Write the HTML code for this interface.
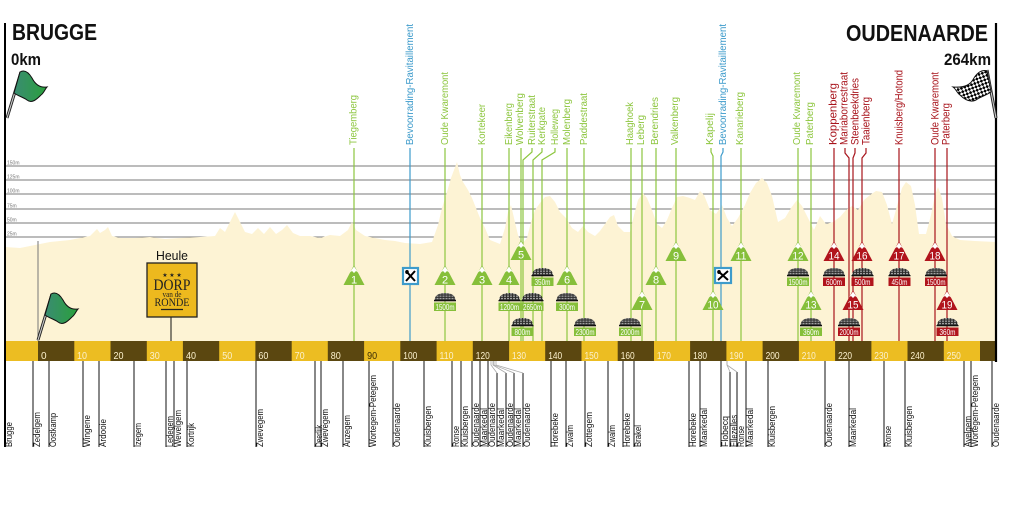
<!DOCTYPE html>
<html><head><meta charset="utf-8"><style>html,body{margin:0;padding:0;background:#fff}svg{display:block}</style></head>
<body>
<svg width="1013" height="519" viewBox="0 0 1013 519" xmlns="http://www.w3.org/2000/svg" xmlns:xlink="http://www.w3.org/1999/xlink" font-family="'Liberation Sans', sans-serif">
<defs>
<pattern id="cp" width="3" height="2.4" patternUnits="userSpaceOnUse"><rect width="3" height="2.4" fill="#2e2e2e"/><rect x="0.5" y="0.4" width="2" height="1.2" fill="#a8a8a8"/></pattern>
<g id="cob"><path d="M-10.5,0 C-10,-5 -6,-7 0,-7 C6,-7 10,-5 10.5,0 Z" fill="url(#cp)"/><rect x="-11" y="0" width="22" height="1.3" fill="#111"/></g>
<g id="tri"><polygon points="0,0 10.5,20 -10.5,20"/><polygon points="0,1.5 4.2,7.5 2,6 0,8 -2,6 -4.2,7.5" fill="#fff"/></g>
<pattern id="ck" width="5" height="5" patternUnits="userSpaceOnUse" patternTransform="rotate(25)"><rect width="5" height="5" fill="#fff"/><rect width="2.5" height="2.5" fill="#000"/><rect x="2.5" y="2.5" width="2.5" height="2.5" fill="#000"/></pattern>
<linearGradient id="gf" x1="0" y1="0" x2="1" y2="0"><stop offset="0" stop-color="#3a8c72"/><stop offset="1" stop-color="#2aa03c"/></linearGradient>
<g id="gflag"><line x1="7" y1="118" x2="21" y2="72" stroke="#222" stroke-width="3"/><line x1="7" y1="118" x2="21" y2="72" stroke="#ccc" stroke-width="1.1"/><path d="M20,72 C25,69 29,73 32,78 C35,84 40,88 47,87 C45,89 44,93 41,95 C37,99 32,104 27,100 C23,97 18,96 14,93 Z" fill="url(#gf)" stroke="#111" stroke-width="1"/></g>
</defs>

<rect width="1013" height="519" fill="#fff"/>

<!-- grid -->
<g stroke="#7a7a7a" stroke-width="1">
<line x1="5" y1="166" x2="996" y2="166"/><line x1="5" y1="180" x2="996" y2="180"/><line x1="5" y1="194" x2="996" y2="194"/><line x1="5" y1="209" x2="996" y2="209"/><line x1="5" y1="223" x2="996" y2="223"/><line x1="5" y1="237" x2="996" y2="237"/>
</g>
<g font-size="5" fill="#777">
<text x="7" y="164.5">150m</text><text x="7" y="178.5">125m</text><text x="7" y="192.5">100m</text><text x="7" y="207.5">75m</text><text x="7" y="221.5">50m</text><text x="7" y="235.5">25m</text>
</g>

<!-- profile -->
<polygon fill="#fdf3d4" points="5,341 5,247 20,248 30,246 40,244 50,242 60,241 70,240 80,238 90,236 97,229 100,233 105,230 108,227 112,236 120,238 135,238 150,237 165,239 180,238 200,237 215,236 220,228 225,232 230,222 235,212 240,222 245,232 252,234 258,228 264,234 270,227 276,234 282,230 287,225 293,233 300,236 310,236 320,238 330,235 340,236 348,230 352,222 356,230 365,236 375,238 385,240 395,241 405,243 420,244 432,242 438,225 442,208 447,192 451,178 454,170 457,162 460,175 463,182 468,190 472,198 476,208 480,218 485,228 490,240 500,244 505,228 508,212 511,205 514,218 518,235 522,244 527,238 531,222 535,210 540,203 545,197 550,196 555,202 560,212 566,218 572,228 578,232 583,226 588,232 595,236 600,231 605,224 610,217 614,215 618,226 624,232 630,232 634,215 638,200 643,193 647,198 652,210 657,224 662,228 667,220 672,208 677,197 683,196 690,198 695,200 700,191 704,195 710,210 716,214 722,205 727,218 732,226 738,218 745,205 750,193 756,183 762,178 767,183 772,196 778,222 785,218 791,208 797,200 802,206 808,218 814,230 820,216 826,224 833,222 840,217 846,210 852,206 858,210 864,200 870,195 876,191 882,192 887,205 892,224 897,206 902,188 906,182 911,186 915,205 919,234 926,234 931,215 935,195 938,187 942,198 946,224 952,236 960,240 975,241 996,242 996,341"/>

<!-- start line & heule line -->
<line x1="38" y1="241" x2="38" y2="341" stroke="#777" stroke-width="1"/>
<line x1="171" y1="317" x2="171" y2="341" stroke="#111" stroke-width="1"/>

<!-- climb lines -->
<g fill="none" stroke-width="1.2">
<g stroke="#8dc63f">
<line x1="354" y1="148" x2="354" y2="341"/>
<line x1="445" y1="148" x2="445" y2="341"/>
<line x1="482" y1="148" x2="482" y2="341"/>
<line x1="509" y1="148" x2="509" y2="341"/>
<line x1="521" y1="148" x2="521" y2="341"/>
<polyline points="532,148 532,152 523,160 523,341"/>
<polyline points="542,148 542,152 533,160 533,341"/>
<polyline points="555,148 555,152 542,160 542,341"/>
<line x1="567" y1="148" x2="567" y2="341"/>
<line x1="584" y1="148" x2="584" y2="341"/>
<line x1="631" y1="148" x2="631" y2="341"/>
<line x1="642" y1="148" x2="642" y2="341"/>
<line x1="656" y1="148" x2="656" y2="341"/>
<line x1="676" y1="148" x2="676" y2="341"/>
<polyline points="711,148 711,152 713,156 713,341"/>
<line x1="741" y1="148" x2="741" y2="341"/>
<line x1="798" y1="148" x2="798" y2="341"/>
<line x1="811" y1="148" x2="811" y2="341"/>
</g>
<g stroke="#3d9bcb">
<line x1="410" y1="148" x2="410" y2="341"/>
<polyline points="723,148 723,152 721,156 721,341"/>
</g>
<g stroke="#a8141c">
<line x1="834" y1="148" x2="834" y2="341"/>
<polyline points="845,148 845,153 849,158 849,341"/>
<polyline points="855,148 855,153 853,158 853,341"/>
<polyline points="866,148 866,153 862,158 862,341"/>
<line x1="899" y1="148" x2="899" y2="341"/>
<line x1="935" y1="148" x2="935" y2="341"/>
<line x1="947" y1="148" x2="947" y2="341"/>
</g>
</g>

<!-- top labels -->
<g font-size="10" fill="#8dc63f" lengthAdjust="spacingAndGlyphs">
<text transform="translate(356.5,145) rotate(-90)" textLength="50" lengthAdjust="spacingAndGlyphs">Tiegemberg</text>
<text transform="translate(448,145) rotate(-90)" textLength="73" lengthAdjust="spacingAndGlyphs">Oude Kwaremont</text>
<text transform="translate(485,145) rotate(-90)" textLength="41" lengthAdjust="spacingAndGlyphs">Kortekeer</text>
<text transform="translate(512,145) rotate(-90)" textLength="42" lengthAdjust="spacingAndGlyphs">Eikenberg</text>
<text transform="translate(523,145) rotate(-90)" textLength="52" lengthAdjust="spacingAndGlyphs">Wolvenberg</text>
<text transform="translate(535,145) rotate(-90)" textLength="50" lengthAdjust="spacingAndGlyphs">Ruiterstraat</text>
<text transform="translate(545,145) rotate(-90)" textLength="38" lengthAdjust="spacingAndGlyphs">Kerkgate</text>
<text transform="translate(558,145) rotate(-90)" textLength="36" lengthAdjust="spacingAndGlyphs">Holleweg</text>
<text transform="translate(570,145) rotate(-90)" textLength="46" lengthAdjust="spacingAndGlyphs">Molenberg</text>
<text transform="translate(587,145) rotate(-90)" textLength="52" lengthAdjust="spacingAndGlyphs">Paddestraat</text>
<text transform="translate(633,145) rotate(-90)" textLength="43" lengthAdjust="spacingAndGlyphs">Haaghoek</text>
<text transform="translate(644,145) rotate(-90)" textLength="30" lengthAdjust="spacingAndGlyphs">Leberg</text>
<text transform="translate(658,145) rotate(-90)" textLength="48" lengthAdjust="spacingAndGlyphs">Berendries</text>
<text transform="translate(678,145) rotate(-90)" textLength="48" lengthAdjust="spacingAndGlyphs">Valkenberg</text>
<text transform="translate(713,145) rotate(-90)" textLength="32" lengthAdjust="spacingAndGlyphs">Kapelij</text>
<text transform="translate(743,145) rotate(-90)" textLength="53" lengthAdjust="spacingAndGlyphs">Kanarieberg</text>
<text transform="translate(800,145) rotate(-90)" textLength="73" lengthAdjust="spacingAndGlyphs">Oude Kwaremont</text>
<text transform="translate(813,145) rotate(-90)" textLength="43" lengthAdjust="spacingAndGlyphs">Paterberg</text>
</g>
<g font-size="10" fill="#3d9bcb">
<text transform="translate(413,145) rotate(-90)" textLength="121" lengthAdjust="spacingAndGlyphs">Bevoorrading-Ravitaillement</text>
<text transform="translate(726,145) rotate(-90)" textLength="121" lengthAdjust="spacingAndGlyphs">Bevoorrading-Ravitaillement</text>
</g>
<g font-size="11" fill="#a8141c">
<text transform="translate(836.5,145) rotate(-90)" textLength="62" lengthAdjust="spacingAndGlyphs">Koppenberg</text>
<text transform="translate(847.5,145) rotate(-90)" textLength="73" lengthAdjust="spacingAndGlyphs">Mariaborrestraat</text>
<text transform="translate(858.5,145) rotate(-90)" textLength="67" lengthAdjust="spacingAndGlyphs">Steenbeekdries</text>
<text transform="translate(869.5,145) rotate(-90)" textLength="48" lengthAdjust="spacingAndGlyphs">Taaienberg</text>
<text transform="translate(902.5,145) rotate(-90)" textLength="75" lengthAdjust="spacingAndGlyphs">Knuisberg/Hotond</text>
<text transform="translate(938.5,145) rotate(-90)" textLength="73" lengthAdjust="spacingAndGlyphs">Oude Kwaremont</text>
<text transform="translate(949.5,145) rotate(-90)" textLength="42" lengthAdjust="spacingAndGlyphs">Paterberg</text>
</g>

<!-- triangles -->
<g>
<use xlink:href="#tri" x="354" y="265" fill="#86bf3a"/>
<use xlink:href="#tri" x="445" y="265" fill="#86bf3a"/>
<use xlink:href="#tri" x="482" y="265" fill="#86bf3a"/>
<use xlink:href="#tri" x="509" y="265" fill="#86bf3a"/>
<use xlink:href="#tri" x="521" y="240" fill="#86bf3a"/>
<use xlink:href="#tri" x="567" y="265" fill="#86bf3a"/>
<use xlink:href="#tri" x="642" y="290" fill="#86bf3a"/>
<use xlink:href="#tri" x="656" y="265" fill="#86bf3a"/>
<use xlink:href="#tri" x="676" y="241" fill="#86bf3a"/>
<use xlink:href="#tri" x="713" y="290" fill="#86bf3a"/>
<use xlink:href="#tri" x="741" y="241" fill="#86bf3a"/>
<use xlink:href="#tri" x="798" y="241" fill="#86bf3a"/>
<use xlink:href="#tri" x="811" y="290" fill="#86bf3a"/>
<use xlink:href="#tri" x="834" y="241" fill="#b1141c"/>
<use xlink:href="#tri" x="853" y="290" fill="#b1141c"/>
<use xlink:href="#tri" x="862" y="241" fill="#b1141c"/>
<use xlink:href="#tri" x="899" y="241" fill="#b1141c"/>
<use xlink:href="#tri" x="935" y="241" fill="#b1141c"/>
<use xlink:href="#tri" x="947" y="290" fill="#b1141c"/>
</g>
<g font-size="11" fill="#fff" text-anchor="middle">
<text x="354" y="283.5">1</text><text x="445" y="283.5">2</text><text x="482" y="283.5">3</text><text x="509" y="283.5">4</text>
<text x="521" y="258.5">5</text><text x="567" y="283.5">6</text><text x="642" y="308.5">7</text><text x="656" y="283.5">8</text>
<text x="676" y="259.5">9</text>
<text x="713" y="308.5" textLength="11" lengthAdjust="spacingAndGlyphs">10</text>
<text x="741" y="259.5" textLength="11" lengthAdjust="spacingAndGlyphs">11</text>
<text x="798" y="259.5" textLength="11" lengthAdjust="spacingAndGlyphs">12</text>
<text x="811" y="308.5" textLength="11" lengthAdjust="spacingAndGlyphs">13</text>
<text x="834" y="259.5" textLength="11" lengthAdjust="spacingAndGlyphs">14</text>
<text x="853" y="308.5" textLength="11" lengthAdjust="spacingAndGlyphs">15</text>
<text x="862" y="259.5" textLength="11" lengthAdjust="spacingAndGlyphs">16</text>
<text x="899" y="259.5" textLength="11" lengthAdjust="spacingAndGlyphs">17</text>
<text x="935" y="259.5" textLength="11" lengthAdjust="spacingAndGlyphs">18</text>
<text x="947" y="308.5" textLength="11" lengthAdjust="spacingAndGlyphs">19</text>
</g>

<!-- cobbles -->
<g>
<use xlink:href="#cob" x="542.5" y="275"/><use xlink:href="#cob" x="798" y="275"/><use xlink:href="#cob" x="834" y="275"/><use xlink:href="#cob" x="862.5" y="275"/><use xlink:href="#cob" x="899.5" y="275"/><use xlink:href="#cob" x="936" y="275"/>
<use xlink:href="#cob" x="445" y="300"/><use xlink:href="#cob" x="509.5" y="300"/><use xlink:href="#cob" x="532.5" y="300"/><use xlink:href="#cob" x="567" y="300"/>
<use xlink:href="#cob" x="522.5" y="325"/><use xlink:href="#cob" x="585" y="325"/><use xlink:href="#cob" x="630" y="325"/><use xlink:href="#cob" x="811" y="325"/><use xlink:href="#cob" x="849" y="325"/><use xlink:href="#cob" x="947.5" y="325"/>
</g>
<g>
<rect x="531.5" y="277.5" width="22" height="8.5" fill="#86bf3a"/>
<rect x="787" y="277.5" width="22" height="8.5" fill="#86bf3a"/>
<rect x="823" y="277.5" width="22" height="8.5" fill="#b1141c"/>
<rect x="851.5" y="277.5" width="22" height="8.5" fill="#b1141c"/>
<rect x="888.5" y="277.5" width="22" height="8.5" fill="#b1141c"/>
<rect x="925" y="277.5" width="22" height="8.5" fill="#b1141c"/>
<rect x="434" y="302.5" width="22" height="8.5" fill="#86bf3a"/>
<rect x="498.5" y="302.5" width="22" height="8.5" fill="#86bf3a"/>
<rect x="521.5" y="302.5" width="22" height="8.5" fill="#86bf3a"/>
<rect x="556" y="302.5" width="22" height="8.5" fill="#86bf3a"/>
<rect x="511.5" y="327.5" width="22" height="8.5" fill="#86bf3a"/>
<rect x="574" y="327.5" width="22" height="8.5" fill="#86bf3a"/>
<rect x="619" y="327.5" width="22" height="8.5" fill="#86bf3a"/>
<rect x="800" y="327.5" width="22" height="8.5" fill="#86bf3a"/>
<rect x="838" y="327.5" width="22" height="8.5" fill="#b1141c"/>
<rect x="936.5" y="327.5" width="22" height="8.5" fill="#b1141c"/>
</g>
<g font-size="8.5" fill="#fff" text-anchor="middle">
<text x="542.5" y="285" textLength="16" lengthAdjust="spacingAndGlyphs">350m</text>
<text x="798" y="285" textLength="19" lengthAdjust="spacingAndGlyphs">1500m</text>
<text x="834" y="285" textLength="16" lengthAdjust="spacingAndGlyphs">600m</text>
<text x="862.5" y="285" textLength="16" lengthAdjust="spacingAndGlyphs">500m</text>
<text x="899.5" y="285" textLength="16" lengthAdjust="spacingAndGlyphs">450m</text>
<text x="936" y="285" textLength="19" lengthAdjust="spacingAndGlyphs">1500m</text>
<text x="445" y="310" textLength="19" lengthAdjust="spacingAndGlyphs">1500m</text>
<text x="509.5" y="310" textLength="19" lengthAdjust="spacingAndGlyphs">1200m</text>
<text x="532.5" y="310" textLength="19" lengthAdjust="spacingAndGlyphs">2650m</text>
<text x="567" y="310" textLength="16" lengthAdjust="spacingAndGlyphs">300m</text>
<text x="522.5" y="335" textLength="16" lengthAdjust="spacingAndGlyphs">800m</text>
<text x="585" y="335" textLength="19" lengthAdjust="spacingAndGlyphs">2300m</text>
<text x="630" y="335" textLength="19" lengthAdjust="spacingAndGlyphs">2000m</text>
<text x="811" y="335" textLength="16" lengthAdjust="spacingAndGlyphs">360m</text>
<text x="849" y="335" textLength="19" lengthAdjust="spacingAndGlyphs">2000m</text>
<text x="947.5" y="335" textLength="16" lengthAdjust="spacingAndGlyphs">360m</text>
</g>

<!-- feed zone icons -->
<g>
<rect x="403" y="268" width="15" height="16" fill="#fff" stroke="#3d9bcb" stroke-width="2.2"/>
<line x1="406" y1="271" x2="415" y2="281" stroke="#000" stroke-width="2"/><line x1="415" y1="271" x2="406" y2="281" stroke="#000" stroke-width="2"/>
<ellipse cx="407" cy="272" rx="1.8" ry="2" fill="#000"/>
<rect x="715" y="268" width="16" height="15" fill="#fff" stroke="#3d9bcb" stroke-width="2.2"/>
<line x1="718" y1="271" x2="728" y2="280" stroke="#000" stroke-width="2"/><line x1="728" y1="271" x2="718" y2="280" stroke="#000" stroke-width="2"/>
<ellipse cx="719" cy="272" rx="1.8" ry="2" fill="#000"/>
</g>

<!-- km bar -->
<rect x="5" y="341" width="991" height="20" fill="#ecbd22"/>
<g fill="#5b4710">
<rect x="38" y="341" width="36.3" height="20"/><rect x="110.5" y="341" width="36.3" height="20"/><rect x="182.9" y="341" width="36.3" height="20"/><rect x="255.4" y="341" width="36.3" height="20"/><rect x="327.8" y="341" width="36.3" height="20"/><rect x="400.3" y="341" width="36.3" height="20"/><rect x="472.8" y="341" width="36.3" height="20"/><rect x="545.2" y="341" width="36.3" height="20"/><rect x="617.7" y="341" width="36.3" height="20"/><rect x="690.1" y="341" width="36.3" height="20"/><rect x="762.6" y="341" width="36.3" height="20"/><rect x="835.1" y="341" width="36.3" height="20"/><rect x="907.5" y="341" width="36.3" height="20"/><rect x="980" y="341" width="16" height="20"/>
</g>
<g font-size="10" fill="#fbf0cc">
<text x="41" y="359">0</text>
<text x="77" y="359" textLength="10" lengthAdjust="spacingAndGlyphs">10</text>
<text x="113.5" y="359" textLength="10" lengthAdjust="spacingAndGlyphs">20</text>
<text x="149.7" y="359" textLength="10" lengthAdjust="spacingAndGlyphs">30</text>
<text x="186" y="359" textLength="10" lengthAdjust="spacingAndGlyphs">40</text>
<text x="222.2" y="359" textLength="10" lengthAdjust="spacingAndGlyphs">50</text>
<text x="258.4" y="359" textLength="10" lengthAdjust="spacingAndGlyphs">60</text>
<text x="294.6" y="359" textLength="10" lengthAdjust="spacingAndGlyphs">70</text>
<text x="330.8" y="359" textLength="10" lengthAdjust="spacingAndGlyphs">80</text>
<text x="367.1" y="359" textLength="10" lengthAdjust="spacingAndGlyphs" fill="#3c2e06">90</text>
<text x="403.3" y="359" textLength="14" lengthAdjust="spacingAndGlyphs">100</text>
<text x="439.5" y="359" textLength="14" lengthAdjust="spacingAndGlyphs">110</text>
<text x="475.8" y="359" textLength="14" lengthAdjust="spacingAndGlyphs">120</text>
<text x="512" y="359" textLength="14" lengthAdjust="spacingAndGlyphs">130</text>
<text x="548.2" y="359" textLength="14" lengthAdjust="spacingAndGlyphs">140</text>
<text x="584.5" y="359" textLength="14" lengthAdjust="spacingAndGlyphs">150</text>
<text x="620.7" y="359" textLength="14" lengthAdjust="spacingAndGlyphs">160</text>
<text x="656.9" y="359" textLength="14" lengthAdjust="spacingAndGlyphs">170</text>
<text x="693.1" y="359" textLength="14" lengthAdjust="spacingAndGlyphs">180</text>
<text x="729.4" y="359" textLength="14" lengthAdjust="spacingAndGlyphs">190</text>
<text x="765.6" y="359" textLength="14" lengthAdjust="spacingAndGlyphs">200</text>
<text x="801.8" y="359" textLength="14" lengthAdjust="spacingAndGlyphs">210</text>
<text x="838.1" y="359" textLength="14" lengthAdjust="spacingAndGlyphs">220</text>
<text x="874.3" y="359" textLength="14" lengthAdjust="spacingAndGlyphs">230</text>
<text x="910.5" y="359" textLength="14" lengthAdjust="spacingAndGlyphs">240</text>
<text x="946.8" y="359" textLength="14" lengthAdjust="spacingAndGlyphs">250</text>
</g>

<!-- borders -->
<line x1="5" y1="23" x2="5" y2="447" stroke="#000" stroke-width="2"/>
<line x1="996" y1="23" x2="996" y2="362" stroke="#000" stroke-width="2.2"/>

<!-- bottom town ticks -->
<g stroke="#111" stroke-width="1">
<line x1="33" y1="361" x2="33" y2="447"/><line x1="49" y1="361" x2="49" y2="447"/><line x1="83" y1="361" x2="83" y2="447"/><line x1="99" y1="361" x2="99" y2="447"/><line x1="134" y1="361" x2="134" y2="447"/>
<line x1="166" y1="361" x2="166" y2="447"/><line x1="174" y1="361" x2="174" y2="447"/><line x1="187" y1="361" x2="187" y2="447"/><line x1="256" y1="361" x2="256" y2="447"/><line x1="315" y1="361" x2="315" y2="447"/><line x1="321" y1="361" x2="321" y2="447"/>
<line x1="343" y1="361" x2="343" y2="447"/><line x1="369" y1="361" x2="369" y2="447"/><line x1="393" y1="361" x2="393" y2="447"/><line x1="424" y1="361" x2="424" y2="447"/><line x1="452" y1="361" x2="452" y2="447"/><line x1="461" y1="361" x2="461" y2="447"/>
<line x1="472" y1="361" x2="472" y2="447"/><line x1="480" y1="361" x2="480" y2="447"/><line x1="488" y1="361" x2="488" y2="447"/>
<line x1="497" y1="373" x2="497" y2="447"/><line x1="506" y1="373" x2="506" y2="447"/><line x1="514" y1="373" x2="514" y2="447"/><line x1="523" y1="373" x2="523" y2="447"/>
<line x1="551" y1="361" x2="551" y2="447"/><line x1="566" y1="361" x2="566" y2="447"/><line x1="585" y1="361" x2="585" y2="447"/><line x1="608" y1="361" x2="608" y2="447"/><line x1="623" y1="361" x2="623" y2="447"/><line x1="634" y1="361" x2="634" y2="447"/>
<line x1="689" y1="361" x2="689" y2="447"/><line x1="700" y1="361" x2="700" y2="447"/><line x1="721" y1="361" x2="721" y2="447"/><line x1="730" y1="372" x2="730" y2="447"/><line x1="737" y1="372" x2="737" y2="447"/><line x1="746" y1="361" x2="746" y2="447"/><line x1="768" y1="361" x2="768" y2="447"/>
<line x1="825" y1="361" x2="825" y2="447"/><line x1="849" y1="361" x2="849" y2="447"/><line x1="884" y1="361" x2="884" y2="447"/><line x1="905" y1="361" x2="905" y2="447"/><line x1="964" y1="361" x2="964" y2="447"/><line x1="971" y1="361" x2="971" y2="447"/><line x1="992" y1="361" x2="992" y2="447"/>
</g>
<g stroke="#aaa" stroke-width="0.8" fill="none">
<polyline points="491,361 491,365 497,373"/><polyline points="493,361 493,365 506,373"/><polyline points="494,361 494,365 514,373"/><polyline points="496,361 496,365 523,373"/>
<polyline points="727,361 727,365 730,372"/><polyline points="727,361 727,365 737,372"/>
</g>
<g font-size="9" fill="#111">
<text transform="translate(12,447) rotate(-90)" textLength="25" lengthAdjust="spacingAndGlyphs">Brugge</text>
<text transform="translate(40,447) rotate(-90)" textLength="35" lengthAdjust="spacingAndGlyphs">Zedelgem</text>
<text transform="translate(56,447) rotate(-90)" textLength="34" lengthAdjust="spacingAndGlyphs">Oostkamp</text>
<text transform="translate(90,447) rotate(-90)" textLength="32" lengthAdjust="spacingAndGlyphs">Wingene</text>
<text transform="translate(106,447) rotate(-90)" textLength="28" lengthAdjust="spacingAndGlyphs">Ardooie</text>
<text transform="translate(141,447) rotate(-90)" textLength="24" lengthAdjust="spacingAndGlyphs">Izegem</text>
<text transform="translate(173,447) rotate(-90)" textLength="31" lengthAdjust="spacingAndGlyphs">Ledegem</text>
<text transform="translate(181,447) rotate(-90)" textLength="37" lengthAdjust="spacingAndGlyphs">Wevelgem</text>
<text transform="translate(194,447) rotate(-90)" textLength="24" lengthAdjust="spacingAndGlyphs">Kortrijk</text>
<text transform="translate(263,447) rotate(-90)" textLength="38" lengthAdjust="spacingAndGlyphs">Zwevegem</text>
<text transform="translate(322,447) rotate(-90)" textLength="22" lengthAdjust="spacingAndGlyphs">Deerlijk</text>
<text transform="translate(328,447) rotate(-90)" textLength="38" lengthAdjust="spacingAndGlyphs">Zwevegem</text>
<text transform="translate(350,447) rotate(-90)" textLength="32" lengthAdjust="spacingAndGlyphs">Anzegem</text>
<text transform="translate(376,447) rotate(-90)" textLength="72" lengthAdjust="spacingAndGlyphs">Wortegem-Petegem</text>
<text transform="translate(400,447) rotate(-90)" textLength="44" lengthAdjust="spacingAndGlyphs">Oudenaarde</text>
<text transform="translate(431,447) rotate(-90)" textLength="41" lengthAdjust="spacingAndGlyphs">Kluisbergen</text>
<text transform="translate(459,447) rotate(-90)" textLength="21" lengthAdjust="spacingAndGlyphs">Ronse</text>
<text transform="translate(468,447) rotate(-90)" textLength="41" lengthAdjust="spacingAndGlyphs">Kluisbergen</text>
<text transform="translate(479,447) rotate(-90)" textLength="44" lengthAdjust="spacingAndGlyphs">Oudenaarde</text>
<text transform="translate(487,447) rotate(-90)" textLength="39" lengthAdjust="spacingAndGlyphs">Maarkedal</text>
<text transform="translate(495,447) rotate(-90)" textLength="44" lengthAdjust="spacingAndGlyphs">Oudenaarde</text>
<text transform="translate(504,447) rotate(-90)" textLength="39" lengthAdjust="spacingAndGlyphs">Maarkedal</text>
<text transform="translate(513,447) rotate(-90)" textLength="44" lengthAdjust="spacingAndGlyphs">Oudenaarde</text>
<text transform="translate(521,447) rotate(-90)" textLength="39" lengthAdjust="spacingAndGlyphs">Maarkedal</text>
<text transform="translate(530,447) rotate(-90)" textLength="44" lengthAdjust="spacingAndGlyphs">Oudenaarde</text>
<text transform="translate(558,447) rotate(-90)" textLength="34" lengthAdjust="spacingAndGlyphs">Horebeke</text>
<text transform="translate(573,447) rotate(-90)" textLength="22" lengthAdjust="spacingAndGlyphs">Zwalm</text>
<text transform="translate(592,447) rotate(-90)" textLength="35" lengthAdjust="spacingAndGlyphs">Zottegem</text>
<text transform="translate(615,447) rotate(-90)" textLength="22" lengthAdjust="spacingAndGlyphs">Zwalm</text>
<text transform="translate(630,447) rotate(-90)" textLength="34" lengthAdjust="spacingAndGlyphs">Horebeke</text>
<text transform="translate(641,447) rotate(-90)" textLength="22" lengthAdjust="spacingAndGlyphs">Brakel</text>
<text transform="translate(696,447) rotate(-90)" textLength="34" lengthAdjust="spacingAndGlyphs">Horebeke</text>
<text transform="translate(707,447) rotate(-90)" textLength="39" lengthAdjust="spacingAndGlyphs">Maarkedal</text>
<text transform="translate(728,447) rotate(-90)" textLength="31" lengthAdjust="spacingAndGlyphs">Flobecq</text>
<text transform="translate(737,447) rotate(-90)" textLength="32" lengthAdjust="spacingAndGlyphs">Ellezelles</text>
<text transform="translate(744,447) rotate(-90)" textLength="21" lengthAdjust="spacingAndGlyphs">Ronse</text>
<text transform="translate(753,447) rotate(-90)" textLength="39" lengthAdjust="spacingAndGlyphs">Maarkedal</text>
<text transform="translate(775,447) rotate(-90)" textLength="41" lengthAdjust="spacingAndGlyphs">Kluisbergen</text>
<text transform="translate(832,447) rotate(-90)" textLength="44" lengthAdjust="spacingAndGlyphs">Oudenaarde</text>
<text transform="translate(856,447) rotate(-90)" textLength="39" lengthAdjust="spacingAndGlyphs">Maarkedal</text>
<text transform="translate(891,447) rotate(-90)" textLength="21" lengthAdjust="spacingAndGlyphs">Ronse</text>
<text transform="translate(912,447) rotate(-90)" textLength="41" lengthAdjust="spacingAndGlyphs">Kluisbergen</text>
<text transform="translate(971,447) rotate(-90)" textLength="31" lengthAdjust="spacingAndGlyphs">Avelgem</text>
<text transform="translate(978,447) rotate(-90)" textLength="72" lengthAdjust="spacingAndGlyphs">Wortegem-Petegem</text>
<text transform="translate(999,447) rotate(-90)" textLength="44" lengthAdjust="spacingAndGlyphs">Oudenaarde</text>
</g>

<!-- titles -->
<g fill="#111" font-weight="bold">
<text x="12" y="40" font-size="23" textLength="85" lengthAdjust="spacingAndGlyphs">BRUGGE</text>
<text x="11" y="65" font-size="17" textLength="30" lengthAdjust="spacingAndGlyphs">0km</text>
<text x="846" y="41" font-size="23" textLength="142" lengthAdjust="spacingAndGlyphs">OUDENAARDE</text>
<text x="944" y="65" font-size="17" textLength="47" lengthAdjust="spacingAndGlyphs">264km</text>
</g>

<!-- flags -->
<use xlink:href="#gflag"/>
<use xlink:href="#gflag" transform="translate(31,222)"/>
<line x1="987" y1="70" x2="996" y2="118" stroke="#222" stroke-width="3"/>
<line x1="987" y1="70" x2="996" y2="118" stroke="#ccc" stroke-width="1.1"/>
<path d="M987,71 C982,69 977,73 974,78 C971,84 966,88 953,87 C956,89 957,93 960,95 C964,99 970,103 976,100 C980,97 985,96 991,92 Z" fill="url(#ck)" stroke="#111" stroke-width="1"/>

<!-- Heule -->
<text x="156" y="260" font-size="13" fill="#111" textLength="32" lengthAdjust="spacingAndGlyphs">Heule</text>
<rect x="147" y="263" width="50" height="54" fill="#edb91e" stroke="#222" stroke-width="1.3"/>
<text x="172" y="277" font-size="6" fill="#222" text-anchor="middle">★ ★ ★</text>
<text x="172" y="290" font-size="16" fill="#222" text-anchor="middle" font-family="'Liberation Serif', serif" textLength="37" lengthAdjust="spacingAndGlyphs">DORP</text>
<text x="172" y="297" font-size="8" fill="#222" text-anchor="middle" font-family="'Liberation Serif', serif" textLength="19" lengthAdjust="spacingAndGlyphs">van de</text>
<text x="172" y="306" font-size="12" fill="#222" text-anchor="middle" font-family="'Liberation Serif', serif" textLength="35" lengthAdjust="spacingAndGlyphs">RONDE</text>
<line x1="161" y1="309.5" x2="183" y2="309.5" stroke="#222" stroke-width="1.2"/>
</svg>
</body></html>
